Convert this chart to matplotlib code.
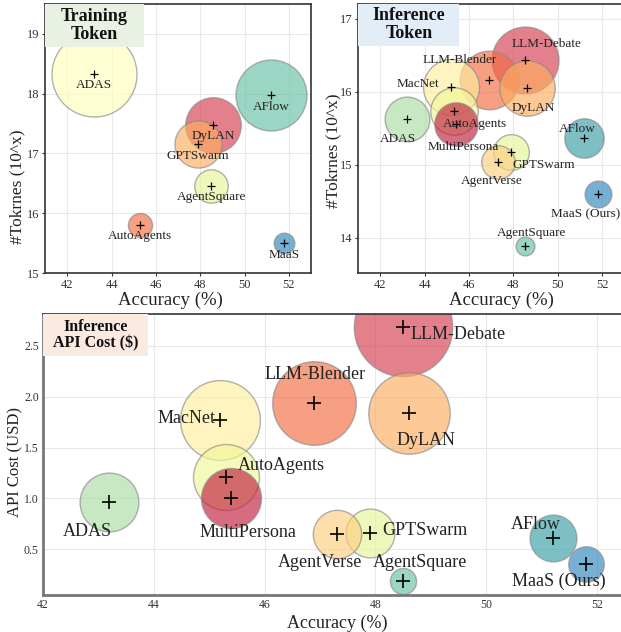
import numpy as np
import matplotlib
matplotlib.use("Agg")
from matplotlib import pyplot as plt
from matplotlib.patches import Rectangle

plt.rcParams["font.family"] = ["Liberation Serif", "DejaVu Serif"]

# ---- data ----
train_names = ["ADAS", "AFlow", "DyLAN", "GPTSwarm", "AgentSquare", "AutoAgents", "MaaS"]
train_acc = [43.2, 51.2, 48.6, 47.9, 48.5, 45.3, 51.8]
train_tokens = [18.33, 17.97, 17.48, 17.15, 16.46, 15.81, 15.50]

inf_names = ["LLM-Debate", "LLM-Blender", "DyLAN", "MacNet", "AutoAgents", "MultiPersona",
             "ADAS", "AFlow", "GPTSwarm", "AgentVerse", "MaaS (Ours)", "AgentSquare"]
inf_acc = [48.5, 46.9, 48.6, 45.2, 45.3, 45.4, 43.2, 51.2, 47.9, 47.3, 51.8, 48.5]
inf_tokens = [16.43, 16.16, 16.05, 16.07, 15.74, 15.56, 15.62, 15.37, 15.17, 15.04, 14.60, 13.89]
inf_cost = [2.69, 1.94, 1.84, 1.77, 1.21, 1.00, 0.96, 0.61, 0.66, 0.65, 0.35, 0.19]

# ---- styles ----
train_colors = ["#ffffbf", "#66c2a5", "#d53e4f", "#fdae61", "#e6f598", "#f46d43", "#3288bd"]
inf_colors = ["#d53e4f", "#f46d43", "#fdae61", "#ffef9f", "#f2f79a", "#c0203f",
              "#abdda4", "#3a9fa8", "#e6f598", "#fdcf80", "#3288bd", "#66c2a5"]

# label offsets in pixels (dx right, dy down)
train_offsets = [(0, 11.5)] * 7
inf_offsets = [(22, -16), (-29, -20), (7, 20), (-33, -2.6), (21.7, 13), (7.6, 23.4),
               (-9.4, 19.3), (-6.7, -9), (32.6, 12.3), (-6.6, 19.6), (-11.6, 20.3), (7, -12.7)]
cost_offsets = [(54.6, 8), (0.7, -28.7), (17, 27.3), (-33.3, -2), (55.7, -12), (16.6, 33.7),
                (-21.7, 29), (-17, -13.7), (55.2, -2.6), (-16.7, 29), (-27.3, 16.7), (16.5, -18.4)]


def draw_panel(ax, names, acc, vals, sizes, colors, offsets, label_fs, cross_s, cross_lw):
    order = np.argsort(sizes)[::-1]
    for i in order:
        ax.scatter(acc[i], vals[i], s=sizes[i], c=colors[i], alpha=0.66,
                   edgecolors="#8a8a8a", linewidths=1.0, zorder=2)
    ax.scatter(acc, vals, marker="+", c="black", s=cross_s, linewidths=cross_lw, zorder=3)
    for name, x, y, (dx, dy) in zip(names, acc, vals, offsets):
        ax.annotate(name, (x, y), xytext=(dx, -dy), textcoords="offset pixels",
                    ha="center", va="center", fontsize=label_fs, color="#222222", zorder=4)


def title_box(ax, text, w, h, color, fs):
    ax.add_patch(Rectangle((0, 1 - h), w, h, transform=ax.transAxes,
                           facecolor=color, edgecolor="none", zorder=5))
    ax.text(w / 2, 1 - h / 2, text, transform=ax.transAxes, ha="center", va="center",
            fontsize=fs, fontweight="bold", color="#111111", zorder=6, linespacing=1.1)


def style_axes(ax, tick_fs, spine_color="#333333"):
    ax.grid(color="#e8e8e8", linewidth=0.8)
    ax.set_axisbelow(True)
    for sp in ax.spines.values():
        sp.set_color(spine_color)
        sp.set_linewidth(1.2)
    ax.tick_params(length=2, pad=2, labelsize=tick_fs, colors="#333333")


W, H = 621, 632
fig = plt.figure(figsize=(W / 100, H / 100), dpi=100)

ax1 = fig.add_axes([45 / W, (H - 273) / H, 266 / W, 269 / H])
ax2 = fig.add_axes([358.3 / W, (H - 273) / H, 266 / W, 269 / H])
ax3 = fig.add_axes([43 / W, (H - 595) / H, 581.7 / W, 280.7 / H])

# bubble area follows exp(tokens) for the token panels, cost for the cost panel
train_sizes = 3745 * np.exp(np.array(train_tokens) - max(train_tokens))
inf_sizes = 2327 * np.exp(np.array(inf_tokens) - max(inf_tokens))
cost_sizes = 1866 * np.array(inf_cost)

# training token
draw_panel(ax1, train_names, train_acc, train_tokens, train_sizes, train_colors,
           train_offsets, 9.5, 40, 0.9)
ax1.set_xlim(41, 53)
ax1.set_ylim(15, 19.5)
ax1.set_xticks(range(42, 53, 2))
ax1.set_yticks(range(15, 20))
style_axes(ax1, 9)
ax1.set_xlabel("Accuracy (%)", fontsize=13.5, color="#222222")
ax1.set_ylabel("#Tokrnes (10^x)", fontsize=12.5, color="#222222")
ax1.xaxis.set_label_coords(0.47, -0.068)
ax1.yaxis.set_label_coords(-0.075, 0.32)
title_box(ax1, "Training\nToken", 0.372, 0.159, "#e9f1e2", 13)

# inference token
draw_panel(ax2, inf_names, inf_acc, inf_tokens, inf_sizes, inf_colors,
           inf_offsets, 9.5, 40, 0.9)
ax2.set_xlim(41, 53)
ax2.set_ylim(13.52, 17.2)
ax2.set_xticks(range(42, 53, 2))
ax2.set_yticks(range(14, 18))
style_axes(ax2, 9)
ax2.set_xlabel("Accuracy (%)", fontsize=13.5, color="#222222")
ax2.set_ylabel("#Tokrnes (10^x)", fontsize=12.5, color="#222222")
ax2.xaxis.set_label_coords(0.539, -0.068)
ax2.yaxis.set_label_coords(-0.065, 0.453)
title_box(ax2, "Inference\nToken", 0.38, 0.155, "#e3edf8", 13)

# inference API cost
draw_panel(ax3, inf_names, inf_acc, inf_cost, cost_sizes, inf_colors,
           cost_offsets, 13, 90, 1.2)
ax3.set_xlim(42, 52.5)
ax3.set_ylim(0.05, 2.81)
ax3.set_xticks(range(42, 53, 2))
ax3.set_yticks([0.5, 1.0, 1.5, 2.0, 2.5])
style_axes(ax3, 8.5)
ax3.spines["left"].set_color("#777777")
ax3.spines["left"].set_linewidth(2)
ax3.spines["bottom"].set_color("#777777")
ax3.spines["bottom"].set_linewidth(2)
ax3.tick_params(length=0, pad=3)
ax3.set_xlabel("Accuracy (%)", fontsize=13, color="#222222")
ax3.set_ylabel("API Cost (USD)", fontsize=12, color="#222222")
ax3.xaxis.set_label_coords(0.505, -0.07)
ax3.yaxis.set_label_coords(-0.034, 0.475)
title_box(ax3, "Inference\nAPI Cost ($)", 0.18, 0.149, "#faeae0", 11.5)

fig.savefig("out.png", dpi=100)
